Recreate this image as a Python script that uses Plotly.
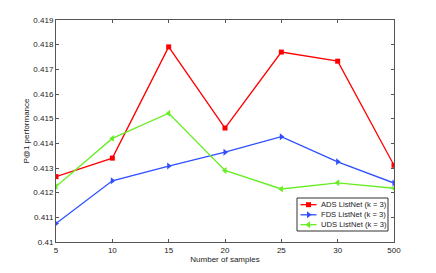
import plotly.graph_objects as go

categories = ["5", "10", "15", "20", "25", "30", "500"]
ads = [0.41265, 0.41340, 0.41791, 0.41462, 0.41770, 0.41733, 0.41311]
fds = [0.41075, 0.41248, 0.41308, 0.41364, 0.41427, 0.41325, 0.41239]
uds = [0.41225, 0.41420, 0.41522, 0.41290, 0.41215, 0.41240, 0.41218]
series_names = ["ADS ListNet (k = 3)", "FDS ListNet (k = 3)", "UDS ListNet (k = 3)"]
yticks = [0.41, 0.411, 0.412, 0.413, 0.414, 0.415, 0.416, 0.417, 0.418, 0.419]
ytick_text = ["0.41", "0.411", "0.412", "0.413", "0.414", "0.415", "0.416", "0.417", "0.418", "0.419"]

colors = ["#ff0000", "#2f4fff", "#66ee22"]
symbols = ["square", "triangle-right", "triangle-left"]
msizes = [5, 6, 6]

W, H = 436, 273
L, R, T, B = 56, 42, 20, 31
x = list(range(len(categories)))
font = "Liberation Sans, Arial, sans-serif"

fig = go.Figure()
for vals, name, c, s, ms in zip([ads, fds, uds], series_names, colors, symbols, msizes):
    fig.add_trace(go.Scatter(x=x, y=vals, mode="lines+markers", name=name, showlegend=False,
                             line=dict(color=c, width=1.3),
                             marker=dict(symbol=s, size=ms, color=c)))

# custom compact legend on an overlay pixel-coordinate axis
px0, px1 = L, W - R
py0, py1 = T, H - B
box = dict(x0=297, x1=388, y0=198, y1=231)
fig.add_shape(type="rect", xref="x2", yref="y2", x0=box["x0"], x1=box["x1"],
              y0=box["y0"], y1=box["y1"], line=dict(color="#333", width=1),
              fillcolor="white", layer="below")
item_y = [204.7, 214.8, 224.7]
for iy, name, c, s, ms in zip(item_y, series_names, colors, symbols, msizes):
    fig.add_trace(go.Scatter(x=[300.5, 308.5, 316.5], y=[iy, iy, iy], xaxis="x2", yaxis="y2",
                             mode="lines", showlegend=False, hoverinfo="skip",
                             line=dict(color=c, width=1.3)))
    fig.add_trace(go.Scatter(x=[308.5], y=[iy], xaxis="x2", yaxis="y2",
                             mode="markers", showlegend=False, hoverinfo="skip",
                             marker=dict(symbol=s, size=ms, color=c)))
    fig.add_annotation(x=319, y=iy, xref="x2", yref="y2", text=name, showarrow=False,
                       xanchor="left", yanchor="middle", font=dict(size=7.6, color="#222"))

fig.update_layout(
    width=W, height=H,
    margin=dict(l=L, r=R, t=T, b=B, autoexpand=False),
    paper_bgcolor="white", plot_bgcolor="white",
    font=dict(family=font, size=8, color="#222"),
    showlegend=False,
    xaxis2=dict(overlaying="x", range=[px0, px1], visible=False, fixedrange=True),
    yaxis2=dict(overlaying="y", range=[py1, py0], visible=False, fixedrange=True),
    xaxis=dict(range=[0, 6], tickmode="array", tickvals=x, ticktext=categories,
               ticks="inside", ticklen=3, tickcolor="#555", mirror="ticks", automargin=False,
               showline=True, linecolor="#555", linewidth=1, showgrid=False, zeroline=False,
               title=dict(text="Number of samples", standoff=0, font=dict(size=8))),
    yaxis=dict(range=[0.41, 0.419], tickmode="array", tickvals=yticks, ticktext=ytick_text,
               ticks="inside", ticklen=3, tickcolor="#555", mirror="ticks", automargin=False,
               showline=True, linecolor="#555", linewidth=1, showgrid=False, zeroline=False,
               title=dict(text="P@1 performance", standoff=2, font=dict(size=8))),
)

fig.write_html("out.html", config={"displayModeBar": False},
               post_script="document.body.style.margin='0';")
